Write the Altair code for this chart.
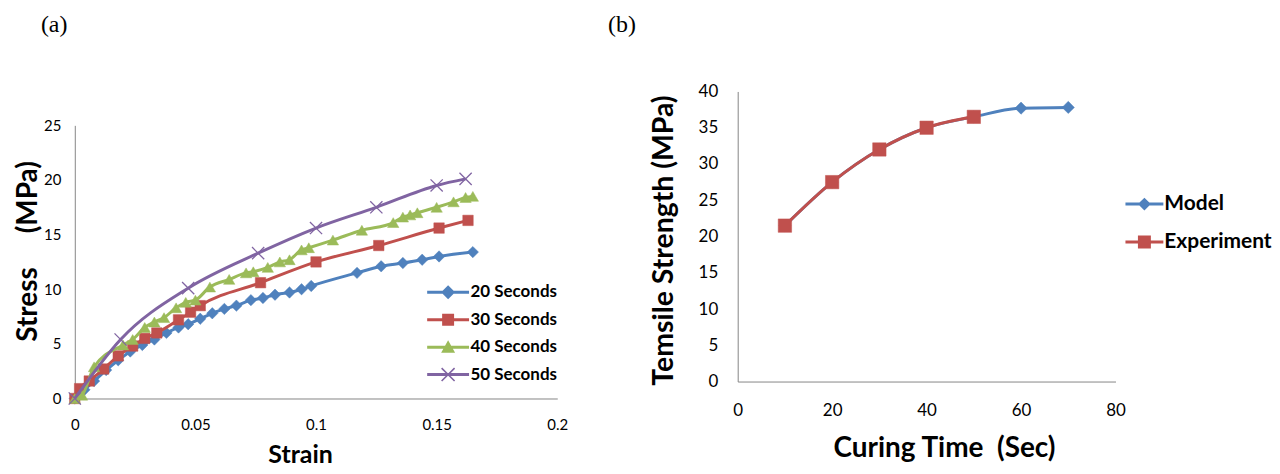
import altair as alt
import pandas as pd
import math

# ---------------- Panel (a) data ----------------
series_a = ["20 Seconds", "30 Seconds", "40 Seconds", "50 Seconds"]
colors_a = ["#4F81BD", "#C0504D", "#9BBB59", "#8064A2"]

strain_20 = [0, 0.004, 0.008, 0.013, 0.018, 0.023, 0.028, 0.033, 0.038, 0.043, 0.047, 0.052, 0.057,
             0.062, 0.067, 0.073, 0.078, 0.083, 0.089, 0.094, 0.098, 0.117, 0.127, 0.136, 0.144,
             0.151, 0.165]
stress_20 = [0, 0.8, 1.6, 2.6, 3.5, 4.3, 4.9, 5.4, 6.0, 6.5, 6.8, 7.3, 7.8, 8.2, 8.5, 9.0, 9.2,
             9.5, 9.7, 10.0, 10.3, 11.5, 12.1, 12.4, 12.7, 13.0, 13.4]

strain_30 = [0, 0.002, 0.006, 0.012, 0.018, 0.024, 0.029, 0.034, 0.043, 0.048, 0.052, 0.077,
             0.100, 0.126, 0.151, 0.163]
stress_30 = [0, 0.9, 1.6, 2.7, 3.9, 4.8, 5.5, 6.0, 7.2, 7.9, 8.5, 10.6, 12.5, 14.0, 15.6, 16.3]

strain_40 = [0, 0.003, 0.008, 0.020, 0.024, 0.029, 0.033, 0.037, 0.042, 0.046, 0.050, 0.056,
             0.064, 0.071, 0.074, 0.080, 0.085, 0.089, 0.094, 0.097, 0.107, 0.119, 0.132, 0.136,
             0.139, 0.142, 0.150, 0.157, 0.162, 0.165]
stress_40 = [0, 0.3, 2.9, 4.9, 5.4, 6.5, 7.0, 7.4, 8.3, 8.8, 9.0, 10.2, 10.9, 11.5, 11.6, 12.0,
             12.5, 12.7, 13.6, 13.8, 14.5, 15.4, 16.1, 16.6, 16.8, 17.0, 17.5, 18.0, 18.4, 18.5]

strain_50 = [0, 0.019, 0.047, 0.076, 0.100, 0.125, 0.150, 0.162]
stress_50 = [0, 5.4, 10.1, 13.3, 15.6, 17.5, 19.5, 20.1]

x_ticks_a = [0, 0.05, 0.1, 0.15, 0.2]
y_ticks_a = [0, 5, 10, 15, 20, 25]

# ---------------- Panel (b) data ----------------
series_b = ["Model", "Experiment"]
colors_b = ["#4F81BD", "#C0504D"]
time_model = [10, 20, 30, 40, 50, 60, 70]
strength_model = [21.5, 27.5, 32.0, 35.0, 36.5, 37.7, 37.8]
time_exp = [10, 20, 30, 40, 50]
strength_exp = [21.5, 27.5, 32.0, 35.0, 36.5]

x_ticks_b = [0, 20, 40, 60, 80]
y_ticks_b = [0, 5, 10, 15, 20, 25, 30, 35, 40]

FONT = "Lato"
AXIS_COLOR = "#868686"
NB = "\u00a0"


def seg_poly(x1, y1, x2, y2, half):
    """thin filled polygon around a segment, oriented clockwise on screen"""
    dx, dy = x2 - x1, y2 - y1
    L = math.hypot(dx, dy)
    nx, ny = -dy / L * half, dx / L * half
    pts = [(x1 + nx, y1 + ny), (x2 + nx, y2 + ny), (x2 - nx, y2 - ny), (x1 - nx, y1 - ny)]
    area = sum(pts[i][0] * pts[(i + 1) % 4][1] - pts[(i + 1) % 4][0] * pts[i][1] for i in range(4))
    if area < 0:
        pts = pts[::-1]
    return "M" + "L".join(f"{x:.3f},{y:.3f}" for x, y in pts) + "Z"


def legend_path(kind, scale, line_half_len, line_half_w, m):
    s = 1.0 / scale
    path = seg_poly(-line_half_len * s, 0, line_half_len * s, 0, line_half_w * s)
    a = m * s
    if kind == "diamond":
        path += f"M0,{-a:.3f}L{a:.3f},0L0,{a:.3f}L{-a:.3f},0Z"
    elif kind == "square":
        path += f"M{-a:.3f},{-a:.3f}L{a:.3f},{-a:.3f}L{a:.3f},{a:.3f}L{-a:.3f},{a:.3f}Z"
    elif kind == "triangle":
        path += f"M0,{-a:.3f}L{a:.3f},{0.8*a:.3f}L{-a:.3f},{0.8*a:.3f}Z"
    elif kind == "x":
        path += seg_poly(-a, -a, a, a, 0.8 * s)
        path += seg_poly(-a, a, a, -a, 0.8 * s)
    return path


X_PATH = "M-1,-1L1,1M-1,1L1,-1"

# ---------------- Panel (a) ----------------
H_A = 308
xa = alt.X("strain:Q", scale=alt.Scale(domain=[0, 0.2], nice=False),
           axis=alt.Axis(values=x_ticks_a, format="~g", title="Strain", titleFontSize=25,
                         labelFlush=False, labelPadding=19, titlePadding=10, titleX=226))
ya = alt.Y("stress:Q", scale=alt.Scale(domain=[0, 25], nice=False, range=[H_A, 34]),
           axis=alt.Axis(values=y_ticks_a, title="Stress" + NB * 5 + "(MPa)", titleFontSize=28,
                         labelPadding=14, titlePadding=1, titleY=160))

data_a = [(strain_20, stress_20), (strain_30, stress_30), (strain_40, stress_40), (strain_50, stress_50)]
shapes_a = ["diamond", "square", "triangle-up", X_PATH]
sizes_a = [130, 110, 130, 150]
layers_a = []
for name, col, shp, sz, (sx, sy) in zip(series_a, colors_a, shapes_a, sizes_a, data_a):
    df = pd.DataFrame({"strain": sx, "stress": sy, "series": name})
    base = alt.Chart(df)
    layers_a.append(base.mark_line(color=col, strokeWidth=3, interpolate="monotone").encode(x=xa, y=ya))
    layers_a.append(base.mark_point(shape=shp, size=sz, filled=True, fill=col, stroke=col,
                                    strokeWidth=1.3 if shp == X_PATH else 0.5, opacity=1).encode(x=xa, y=ya))

leg_paths_a = [legend_path(k, 13.5, 21, 1.5, m) for k, m in
               [("diamond", 7), ("square", 6), ("triangle", 7), ("x", 6.5)]]
df_leg_a = pd.DataFrame({"strain": [0] * 4, "stress": [0] * 4, "series": series_a})
leg_a_def = dict(title=None, orient="none", legendX=361, legendY=188, padding=0,
                 labelFont=FONT, labelFontSize=17, labelFontWeight="bold", labelColor="black",
                 symbolSize=729, symbolStrokeWidth=0, rowPadding=5.5, labelOffset=9)
legend_layer_a = alt.Chart(df_leg_a).mark_point(filled=True, opacity=1).encode(
    x=xa, y=ya,
    color=alt.Color("series:N", scale=alt.Scale(domain=series_a, range=colors_a),
                    legend=alt.Legend(**leg_a_def)),
    shape=alt.Shape("series:N", scale=alt.Scale(domain=series_a, range=leg_paths_a),
                    legend=alt.Legend(**leg_a_def)),
).transform_filter("false")
layers_a.append(legend_layer_a)

panel_a = alt.layer(*layers_a).properties(
    width=484, height=H_A,
    title=alt.TitleParams("(a)", anchor="start", frame="group", font="Liberation Serif",
                          fontSize=24, fontWeight="normal", color="black", offset=55, dx=-34),
)

# ---------------- Panel (b) ----------------
xb = alt.X("time:Q", scale=alt.Scale(domain=[0, 80], nice=False),
           axis=alt.Axis(values=x_ticks_b, title="Curing Time" + NB * 2 + "(Sec)", titleFontSize=28,
                         labelFlush=False, labelFontSize=17, labelPadding=21, titlePadding=16,
                         titleX=207))
yb = alt.Y("strength:Q", scale=alt.Scale(domain=[0, 40], nice=False),
           axis=alt.Axis(values=y_ticks_b, title="Temsile Strength (MPa)", titleFontSize=28.5,
                         labelFontSize=17, labelPadding=20, titlePadding=20, titleY=149))

data_b = [(time_model, strength_model), (time_exp, strength_exp)]
shapes_b = ["diamond", "square"]
sizes_b = [150, 180]
layers_b = []
for name, col, shp, sz, (tx, ty) in zip(series_b, colors_b, shapes_b, sizes_b, data_b):
    df = pd.DataFrame({"time": tx, "strength": ty, "series": name})
    base = alt.Chart(df)
    layers_b.append(base.mark_line(color=col, strokeWidth=3, interpolate="monotone").encode(x=xb, y=yb))
    layers_b.append(base.mark_point(shape=shp, size=sz, filled=True, fill=col, stroke=col,
                                    strokeWidth=0.5, opacity=1).encode(x=xb, y=yb))

leg_paths_b = [legend_path(k, 15, 19, 1.5, m) for k, m in [("diamond", 6.5), ("square", 6.5)]]
df_leg_b = pd.DataFrame({"time": [0] * 2, "strength": [0] * 2, "series": series_b})
leg_b_def = dict(title=None, orient="none", legendX=393, legendY=98, padding=0,
                 labelFont=FONT, labelFontSize=21, labelFontWeight="bold", labelColor="black",
                 symbolSize=900, symbolStrokeWidth=0, rowPadding=13, labelOffset=5)
legend_layer_b = alt.Chart(df_leg_b).mark_point(filled=True, opacity=1).encode(
    x=xb, y=yb,
    color=alt.Color("series:N", scale=alt.Scale(domain=series_b, range=colors_b),
                    legend=alt.Legend(**leg_b_def)),
    shape=alt.Shape("series:N", scale=alt.Scale(domain=series_b, range=leg_paths_b),
                    legend=alt.Legend(**leg_b_def)),
).transform_filter("false")
layers_b.append(legend_layer_b)

panel_b = alt.layer(*layers_b).properties(
    width=379, height=291,
    title=alt.TitleParams("(b)", anchor="start", frame="group", font="Liberation Serif",
                          fontSize=24, fontWeight="normal", color="black", offset=45.5, dx=-130),
)

chart = alt.hconcat(panel_a, panel_b, spacing=40).resolve_scale(
    color="independent", shape="independent"
).properties(
    padding={"left": 6, "top": 4, "right": 0, "bottom": 0}
).configure_view(stroke=None).configure_axis(
    domainColor=AXIS_COLOR, domainWidth=1, ticks=False, grid=False,
    labelFont=FONT, labelFontSize=15, labelColor="black",
    titleFont=FONT, titleFontWeight="bold", titleColor="black",
)

chart.save("out.html", embed_options={"renderer": "svg", "actions": False})
